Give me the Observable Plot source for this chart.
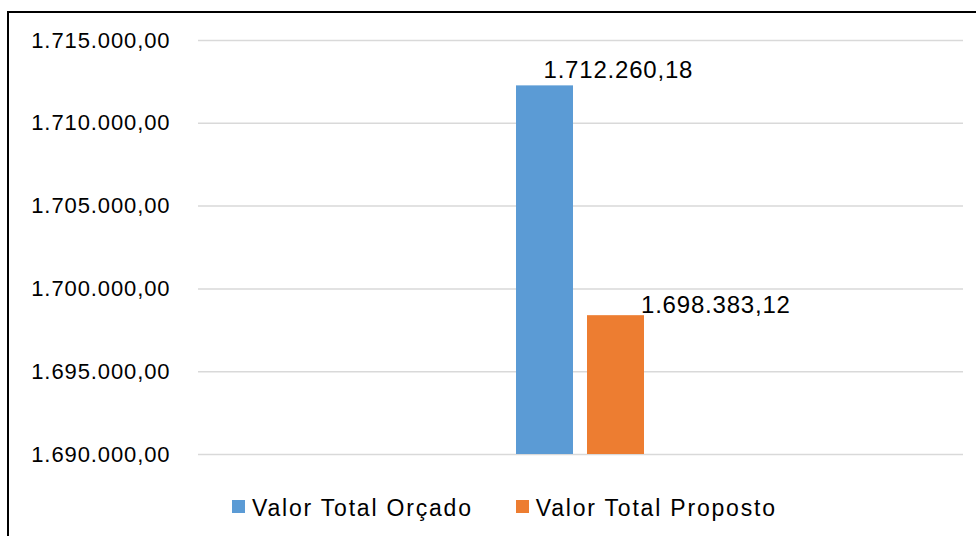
<!DOCTYPE html>
<html>
<head>
<meta charset="utf-8">
<script src="https://cdn.jsdelivr.net/npm/d3@7"></script>
<script src="https://cdn.jsdelivr.net/npm/@observablehq/plot@0.6"></script>
<style>
  html, body { margin: 0; padding: 0; background: #fff; width: 976px; height: 536px; overflow: hidden; }
  body { position: relative; font-family: "Liberation Sans", Arial, sans-serif; }
  #frame { position: absolute; left: 7px; top: 11px; width: 1000px; height: 600px;
           border-left: 2px solid #000; border-top: 2px solid #000; pointer-events: none; z-index: 2; }
  #chart { position: absolute; left: 0; top: 0; }
  #chart svg [aria-label="y-axis tick label"] text { letter-spacing: 0.9px; }
  #chart svg [aria-label="text"] text { letter-spacing: 0.8px; }
  #legend { position: absolute; left: 232px; top: 495px; display: flex; align-items: flex-start;
            font-size: 23px; line-height: 27px; letter-spacing: 1.8px; color: #000; }
  .item { display: flex; align-items: flex-start; margin-right: 43px; }
  .sw { width: 13px; height: 13px; margin-top: 5px; margin-right: 7px; }
</style>
</head>
<body>
<div id="frame"></div>
<div id="chart"></div>
<div id="legend"></div>
<script>
const series = ["Valor Total Orçado", "Valor Total Proposto"];
const values = [1712260.18, 1698383.12];
const colors = ["#5b9bd5", "#ed7d31"];
const yTicks = [1690000, 1695000, 1700000, 1705000, 1710000, 1715000];

const ptBR = d3.formatLocale({decimal: ",", thousands: ".", grouping: [3], currency: ["", ""]});
const fmt = ptBR.format(",.2f");

const data = series.map((s, i) => ({series: s, value: values[i]}));

const chart = Plot.plot({
  width: 976,
  height: 470,
  marginLeft: 198,
  marginRight: 13,
  marginTop: 40,
  marginBottom: 16,
  style: {background: "transparent", fontFamily: "'Liberation Sans', Arial, sans-serif", color: "#000"},
  x: {domain: series, paddingInner: 0.195, paddingOuter: 4.425, align: 0.5, axis: null},
  y: {domain: [yTicks[0], yTicks[yTicks.length - 1]], axis: null, label: null},
  color: {domain: series, range: colors},
  marks: [
    Plot.gridY(yTicks, {stroke: "#d9d9d9", strokeOpacity: 1, strokeWidth: 1.5}),
    Plot.axisY(yTicks, {tickSize: 0, tickPadding: 28, tickFormat: fmt, fontSize: 22, fill: "#000", label: null}),
    Plot.barY(data, {x: "series", y1: yTicks[0], y2: "value", fill: "series"}),
    Plot.text(data.filter(d => d.series === series[0]), {
      x: "series", y: "value", text: d => fmt(d.value), textAnchor: "start",
      lineAnchor: "bottom", dx: -1.5, dy: -8, fontSize: 24, fill: "#000"
    }),
    Plot.text(data.filter(d => d.series === series[1]), {
      x: "series", y: "value", text: d => fmt(d.value), textAnchor: "start",
      lineAnchor: "bottom", dx: 25, dy: -3, fontSize: 24, fill: "#000"
    })
  ]
});
document.getElementById("chart").appendChild(chart);

const legend = document.getElementById("legend");
series.forEach((s, i) => {
  const item = document.createElement("div");
  item.className = "item";
  const sw = document.createElement("span");
  sw.className = "sw";
  sw.style.background = colors[i];
  const label = document.createElement("span");
  label.textContent = s;
  item.appendChild(sw);
  item.appendChild(label);
  legend.appendChild(item);
});
</script>
</body>
</html>
